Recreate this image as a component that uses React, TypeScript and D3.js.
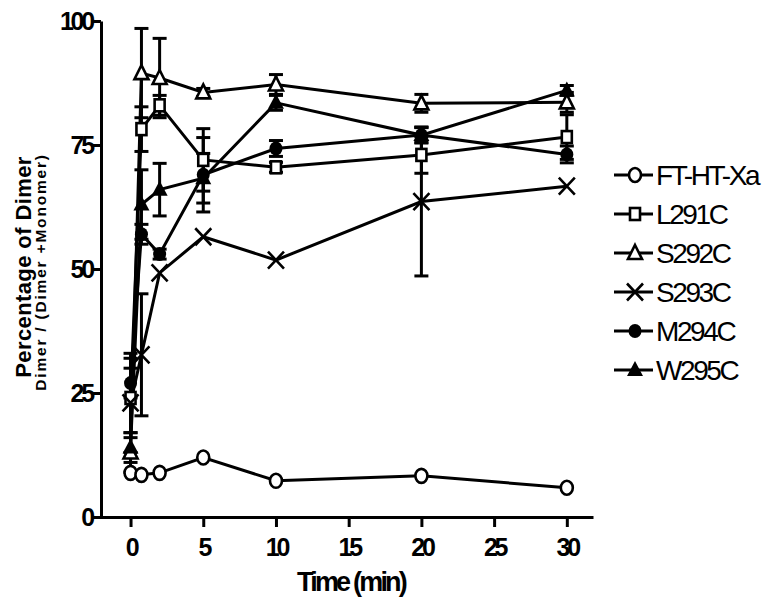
import { useEffect, useRef } from 'react';
import * as d3 from 'd3';

// sampling times (min)
const times = [0, 0.75, 2, 5, 10, 20, 30];
const xTicks = [0, 5, 10, 15, 20, 25, 30];
const yTicks = [0, 25, 50, 75, 100];

const ftMean = [8.9, 8.5, 8.9, 12.0, 7.3, 8.3, 5.9];
const ftErr = [0, 0, 0, 0, 0, 0, 0];
const l291Mean = [24, 78.2, 83, 72, 70.5, 73, 76.6];
const l291Err = [8, 4.5, 2, 6.3, 1, 3.7, 4.5];
const s292Mean = [13, 89.5, 88.5, 85.6, 87.2, 83.4, 83.6];
const s292Err = [4, 9, 8, 0.8, 2, 1.8, 2];
const s293Mean = [23, 32.7, 49.2, 56.5, 51.8, 63.6, 66.7];
const s293Err = [10, 12.3, 0, 0, 0, 15, 0];
const m294Mean = [27, 57, 53, 69, 74.3, 77, 73.1];
const m294Err = [3, 2, 1, 7.5, 1.6, 1.5, 1.7];
const w295Mean = [14, 63, 66, 68.3, 83.5, 77, 86];
const w295Err = [3, 7, 5.3, 5, 1.5, 1.6, 1];

const seriesNames = ['FT-HT-Xa', 'L291C', 'S292C', 'S293C', 'M294C', 'W295C'];
const seriesShapes = ['circle', 'square', 'triangle', 'cross', 'dot', 'filledTriangle'];
const seriesMeans = [ftMean, l291Mean, s292Mean, s293Mean, m294Mean, w295Mean];
const seriesErrs = [ftErr, l291Err, s292Err, s293Err, m294Err, w295Err];

const W = 771;
const H = 606;

const x = d3.scaleLinear().domain([-2.1, 31.8]).range([100, 593]);
const y = d3.scaleLinear().domain([0, 100]).range([517, 21]);

function Marker({ shape, cx, cy }: { shape: string; cx: number; cy: number }) {
  const sw = 2.6;
  switch (shape) {
    case 'circle':
      return <ellipse cx={cx} cy={cy} rx={6} ry={7} fill="#fff" stroke="#000" strokeWidth={sw} />;
    case 'square':
      return <rect x={cx - 5} y={cy - 6} width={10} height={12} fill="#fff" stroke="#000" strokeWidth={sw} />;
    case 'triangle':
      return (
        <path d={`M${cx},${cy - 8}L${cx + 7},${cy + 6}L${cx - 7},${cy + 6}Z`}
          fill="#fff" stroke="#000" strokeWidth={sw} strokeLinejoin="miter" />
      );
    case 'cross':
      return (
        <path d={`M${cx - 8},${cy - 8.5}L${cx + 8},${cy + 8.5}M${cx + 8},${cy - 8.5}L${cx - 8},${cy + 8.5}`}
          stroke="#000" strokeWidth={sw} />
      );
    case 'dot':
      return <ellipse cx={cx} cy={cy} rx={6.5} ry={7} fill="#000" />;
    default:
      return <path d={`M${cx},${cy - 9}L${cx + 8},${cy + 6}L${cx - 8},${cy + 6}Z`} fill="#000" />;
  }
}

export default function App() {
  const xAxisRef = useRef<SVGGElement>(null);
  const yAxisRef = useRef<SVGGElement>(null);

  useEffect(() => {
    const xa = d3.select(xAxisRef.current!);
    xa.selectAll('*').remove();
    xa.call(d3.axisBottom(x).tickValues(xTicks).tickSize(10).tickSizeOuter(0).tickPadding(11).tickFormat(d3.format('d')));
    const ya = d3.select(yAxisRef.current!);
    ya.selectAll('*').remove();
    ya.call(d3.axisLeft(y).tickValues(yTicks).tickSize(8).tickSizeOuter(0).tickPadding(1).tickFormat(d3.format('d')));

    [xa, ya].forEach((g) => {
      g.attr('font-family', 'Liberation Sans, Arial, sans-serif').attr('font-size', 25);
      g.select('.domain').attr('stroke', '#000').attr('stroke-width', 3);
      g.selectAll('.tick line').attr('stroke', '#000').attr('stroke-width', 3);
      g.selectAll('.tick text')
        .attr('fill', '#000')
        .attr('font-weight', 'bold')
        .attr('letter-spacing', -3.2);
    });
  }, []);

  const line = d3.line<number>().x((_, i) => x(times[i])).y((d) => y(d));

  return (
    <svg width={W} height={H} style={{ position: 'absolute', left: 0, top: 0, background: '#fff' }}
      fontFamily="Liberation Sans, Arial, sans-serif">
      <rect width={W} height={H} fill="#fff" />

      {/* error bars */}
      {seriesMeans.map((means, s) => (
        <g key={`err-${s}`}>
          {means.map((m, i) => {
            const e = seriesErrs[s][i];
            if (!e) return null;
            const cx = x(times[i]);
            return (
              <g key={i} stroke="#000" strokeWidth={3}>
                <line x1={cx} x2={cx} y1={y(m - e)} y2={y(m + e)} />
                <line x1={cx - 7} x2={cx + 7} y1={y(m + e)} y2={y(m + e)} />
                <line x1={cx - 7} x2={cx + 7} y1={y(m - e)} y2={y(m - e)} />
              </g>
            );
          })}
        </g>
      ))}

      {/* lines */}
      {seriesMeans.map((means, s) => (
        <path key={`line-${s}`} d={line(means) ?? ''} fill="none" stroke="#000" strokeWidth={3} />
      ))}

      {/* markers */}
      {seriesMeans.map((means, s) => (
        <g key={`mk-${s}`}>
          {means.map((m, i) => (
            <Marker key={i} shape={seriesShapes[s]} cx={x(times[i])} cy={y(m)} />
          ))}
        </g>
      ))}

      <g ref={xAxisRef} transform="translate(0,517)" />
      <g ref={yAxisRef} transform="translate(101,0)" />

      {/* axis titles */}
      <text x={351} y={591} textAnchor="middle" fontSize={27} fontWeight="bold" letterSpacing={-2.8}>
        Time (min)
      </text>
      <g transform="translate(31,267) rotate(-90)">
        <text textAnchor="middle" fontSize={22} fontWeight="bold" letterSpacing={0.4}>
          Percentage of Dimer
        </text>
      </g>
      <g transform="translate(46,272) rotate(-90)">
        <text textAnchor="middle" fontSize={15.5} fontWeight="bold" letterSpacing={1.8}>
          Dimer /  (Dimer +Monomer)
        </text>
      </g>

      {/* legend */}
      {seriesNames.map((name, s) => {
        const ly = 175 + s * 39;
        return (
          <g key={`lg-${s}`}>
            <line x1={614} x2={653} y1={ly} y2={ly} stroke="#000" strokeWidth={3} />
            <Marker shape={seriesShapes[s]} cx={635} cy={ly} />
            <text x={656} y={ly + 10} fontSize={28} letterSpacing={-2.4}>
              {name}
            </text>
          </g>
        );
      })}
    </svg>
  );
}
